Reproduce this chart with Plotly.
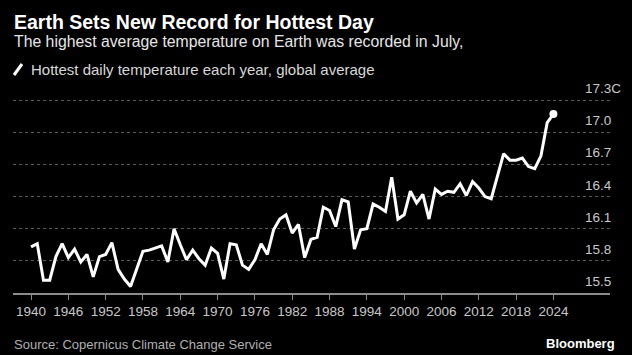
import plotly.graph_objects as go

years = list(range(1940, 2025))
temps = [15.93, 15.96, 15.62, 15.62, 15.84, 15.96, 15.83, 15.91, 15.79, 15.86,
         15.65, 15.84, 15.86, 15.97, 15.72, 15.63, 15.56, 15.73, 15.89, 15.90,
         15.92, 15.94, 15.79, 16.10, 15.95, 15.81, 15.90, 15.82, 15.76, 15.92,
         15.87, 15.63, 15.96, 15.95, 15.76, 15.72, 15.81, 15.96, 15.86, 16.09,
         16.19, 16.23, 16.06, 16.14, 15.83, 16.00, 16.02, 16.30, 16.27, 16.12,
         16.37, 16.35, 15.91, 16.09, 16.10, 16.33, 16.30, 16.26, 16.58, 16.19,
         16.23, 16.45, 16.34, 16.42, 16.19, 16.47, 16.42, 16.45, 16.44, 16.52,
         16.41, 16.54, 16.48, 16.40, 16.38, 16.60, 16.80, 16.74, 16.74, 16.76,
         16.68, 16.66, 16.78, 17.09, 17.17]

x_ticks = list(range(1940, 2025, 6))
y_ticks = [15.5, 15.8, 16.1, 16.4, 16.7, 17.0, 17.3]
y_tick_labels = ["15.5", "15.8", "16.1", "16.4", "16.7", "17.0", "17.3C"]

title = "Earth Sets New Record for Hottest Day"
subtitle = "The highest average temperature on Earth was recorded in July,"
legend_text = "Hottest daily temperature each year, global average"
source = "Source: Copernicus Climate Change Service"

W, H = 632, 355
ML, MR, MT, MB = 13, 22, 98, 62
PW = W - ML - MR
PH = H - MT - MB


def px_x(px):
    return (px - ML) / PW


def px_y(py):
    return (H - MB - py) / PH


FONT = "Liberation Sans, Arial, sans-serif"

fig = go.Figure()
fig.add_trace(go.Scatter(
    x=years, y=temps, mode="lines",
    line=dict(color="white", width=3),
    hoverinfo="skip", showlegend=False,
))
fig.add_trace(go.Scatter(
    x=[years[-1]], y=[temps[-1]], mode="markers",
    marker=dict(color="white", size=8),
    cliponaxis=False, hoverinfo="skip", showlegend=False,
))

annotations = []
for v, lab in zip(y_ticks, y_tick_labels):
    annotations.append(dict(
        x=px_x(583), xref="paper", y=v, yref="y",
        text=lab, showarrow=False, xanchor="left", yanchor="bottom",
        yshift=2, font=dict(family=FONT, size=13.5, color="#c8c8c8"),
    ))

annotations += [
    dict(x=px_x(12), y=px_y(22), xref="paper", yref="paper", text="<b>" + title + "</b>",
         showarrow=False, xanchor="left", yanchor="middle",
         font=dict(family=FONT, size=19.5, color="white")),
    dict(x=px_x(12), y=px_y(42), xref="paper", yref="paper", text=subtitle,
         showarrow=False, xanchor="left", yanchor="middle",
         font=dict(family=FONT, size=15.8, color="#e6e6e6")),
    dict(x=px_x(29), y=px_y(69), xref="paper", yref="paper", text=legend_text,
         showarrow=False, xanchor="left", yanchor="middle",
         font=dict(family=FONT, size=15, color="#d8d8d8")),
    dict(x=px_x(12), y=px_y(344), xref="paper", yref="paper", text=source,
         showarrow=False, xanchor="left", yanchor="middle",
         font=dict(family=FONT, size=13, color="#b0b0b0")),
    dict(x=px_x(617), y=px_y(343), xref="paper", yref="paper", text="<b>Bloomberg</b>",
         showarrow=False, xanchor="right", yanchor="middle",
         font=dict(family=FONT, size=13, color="white")),
]

fig.update_layout(
    width=W, height=H,
    margin=dict(l=ML, r=MR, t=MT, b=MB, pad=0),
    paper_bgcolor="black", plot_bgcolor="black",
    showlegend=False,
    annotations=annotations,
    shapes=[dict(type="line", xref="paper", yref="paper",
                 x0=px_x(14), y0=px_y(75), x1=px_x(22), y1=px_y(64),
                 line=dict(color="white", width=3))],
    xaxis=dict(
        range=[1937.1, 2033.1], tickvals=x_ticks,
        showgrid=False, zeroline=False,
        showline=True, linecolor="#8c8c8c", linewidth=2,
        ticks="outside", ticklen=5, tickcolor="#8c8c8c", tickwidth=1,
        tickfont=dict(family=FONT, size=13.5, color="#c8c8c8"),
        fixedrange=True,
    ),
    yaxis=dict(
        range=[15.5, 17.32], tickvals=y_ticks, showticklabels=False,
        showgrid=True, gridcolor="#5a5a5a", griddash="dot", gridwidth=1,
        zeroline=False, showline=False, fixedrange=True,
    ),
)

fig.write_html("out.html", config={"displayModeBar": False},
               post_script="document.body.style.margin='0';")
